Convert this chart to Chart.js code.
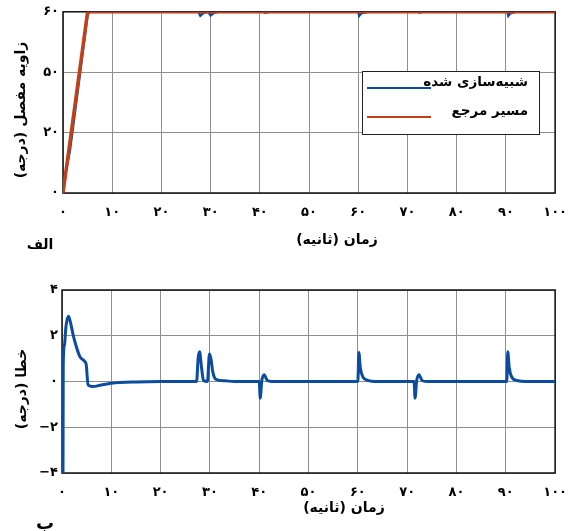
<!DOCTYPE html>
<html><head><meta charset="utf-8">
<script src="https://cdn.jsdelivr.net/npm/chart.js@4.4.1/dist/chart.umd.min.js"></script>
<style>
html,body{margin:0;padding:0;background:#fff;width:579px;height:531px;overflow:hidden}
canvas{position:absolute;left:0}
#c1{top:0}#c2{top:265px}
</style></head><body>
<canvas id="c1" width="579" height="265"></canvas>
<canvas id="c2" width="579" height="266"></canvas>
<script>
// ---- data ----
const xTickLabels = ['۰','۱۰','۲۰','۳۰','۴۰','۵۰','۶۰','۷۰','۸۰','۹۰','۱۰۰'];
const angleTickLabels = ['۰','۲۰','۵۰','۶۰'];
const errorTickLabels = ['−۴','−۲','۰','۲','۴'];
const seriesNames = ['شبیه‌سازی شده','مسیر مرجع'];
const xTitle = 'زمان (ثانیه)';
const angleTitle = 'زاویه مفصل (درجه)';
const errorTitle = 'خطا (درجه)';
const panelLabels = ['الف','ب'];

const refTime  = [0, 5, 100];
const refAngle = [0, 60, 60];

const simTime  = [0, 0.5, 1.4, 3, 5, 5.6, 8, 27.5, 27.9, 28.5, 29.5, 30, 30.6, 31.5, 40.2, 41, 42, 60, 60.2, 60.6, 62, 71.6, 72.4, 73, 90.3, 90.5, 90.9, 92, 100];
const simAngle = [0, 6.5, 14, 34, 59.2, 60.2, 60.1, 60, 58.7, 59.6, 60, 58.8, 59.6, 60, 60.7, 59.7, 60, 60, 58.7, 59.5, 60, 60.7, 59.7, 60, 60, 58.7, 59.5, 60, 60];

const errTime  = [0, 0.05, 0.2, 0.25, 0.5, 0.8, 1.3, 1.7, 2.2, 2.6, 3.6, 4.6, 4.9, 5.3, 6.2, 8, 10, 15, 20,
                  27.3, 27.6, 27.9, 28.3, 28.7, 29.5, 29.9, 30.2, 30.6, 31.2, 33, 35,
                  40, 40.2, 40.5, 41, 41.6, 42.5, 60, 60.2, 60.5, 61, 62, 64,
                  71.4, 71.6, 71.9, 72.4, 73, 74, 90.2, 90.4, 90.7, 91.2, 92.5, 94, 100];
const errValue = [0.3, -4, -4, 0.7, 1.6, 2.4, 2.85, 2.6, 2.1, 1.75, 1.1, 0.88, 0.75, -0.15, -0.22, -0.15, -0.08, -0.02, 0,
                  0, 1.0, 1.3, 0.6, 0.05, 0, 1.2, 1.0, 0.4, 0.1, 0.03, 0,
                  0, -0.73, 0, 0.3, 0.05, 0, 0, 1.27, 0.6, 0.2, 0.05, 0,
                  0, -0.73, 0, 0.3, 0.05, 0, 0, 1.3, 0.6, 0.2, 0.03, 0, 0];

// ---- styling ----
const BLUE = '#0b4c9e', RED = '#c0401a', GRID = '#8f8f8f';
const FONT = 'DejaVu Sans';
const pts = (xs, ys) => xs.map((x, i) => ({x, y: ys[i]}));

const framePlugin = {
  id: 'frame',
  beforeDatasetsDraw(chart) {
    const {ctx, chartArea: a} = chart;
    ctx.save();
    ctx.strokeStyle = '#111'; ctx.lineWidth = 1.5;
    ctx.strokeRect(a.left, a.top, a.right - a.left, a.bottom - a.top);
    ctx.restore();
  }
};

function textPlugin(items) {
  return {
    id: 'texts',
    afterDraw(chart) {
      const ctx = chart.ctx;
      items.forEach(t => {
        ctx.save();
        ctx.direction = 'rtl';
        ctx.font = 'bold ' + t.size + 'px "' + FONT + '"';
        ctx.fillStyle = '#000';
        ctx.textAlign = 'center';
        ctx.textBaseline = 'middle';
        ctx.translate(t.x, t.y);
        if (t.rot) ctx.rotate(t.rot);
        ctx.fillText(t.text, 0, 0);
        ctx.restore();
      });
    }
  };
}

const legendPlugin = {
  id: 'legendBox',
  afterDatasetsDraw(chart) {
    const ctx = chart.ctx;
    ctx.save();
    ctx.fillStyle = '#fff';
    ctx.fillRect(362, 71, 177, 63);
    ctx.strokeStyle = '#222'; ctx.lineWidth = 1;
    ctx.strokeRect(362.5, 71.5, 177, 63);
    const ds = chart.data.datasets;
    const rows = [{y: 88, ty: 82}, {y: 117, ty: 111}];
    ds.forEach((d, i) => {
      ctx.strokeStyle = d.borderColor; ctx.lineWidth = 2.2;
      ctx.beginPath(); ctx.moveTo(367, rows[i].y); ctx.lineTo(431, rows[i].y); ctx.stroke();
      ctx.direction = 'rtl';
      ctx.font = 'bold 13.5px "' + FONT + '"';
      ctx.fillStyle = '#000'; ctx.textAlign = 'right'; ctx.textBaseline = 'middle';
      ctx.fillText(d.label, 528, rows[i].ty);
    });
    ctx.restore();
  }
};

function scales(yMin, yMax, yStep, yLabels, yWidth, xHeight) {
  return {
    x: {
      type: 'linear', min: 0, max: 100,
      afterFit(s) { s.height = xHeight; },
      grid: {color: GRID, lineWidth: 1, drawTicks: false},
      border: {display: false},
      ticks: {stepSize: 10, autoSkip: false, maxRotation: 0, padding: 12, color: '#000',
              font: {family: FONT, weight: 'bold', size: 13},
              callback: (v, i) => xTickLabels[i]}
    },
    y: {
      type: 'linear', min: yMin, max: yMax,
      afterFit(s) { s.width = yWidth; },
      grid: {color: GRID, lineWidth: 1, drawTicks: false},
      border: {display: false},
      ticks: {stepSize: yStep, autoSkip: false, padding: 4, color: '#000',
              font: {family: FONT, weight: 'bold', size: 13},
              callback: (v, i) => yLabels[i]}
    }
  };
}

const common = {
  responsive: false, animation: false, devicePixelRatio: 1,
  plugins: {legend: {display: false}, tooltip: {enabled: false}},
  elements: {point: {radius: 0}, line: {tension: 0}}
};

new Chart(document.getElementById('c1'), {
  type: 'line',
  data: {datasets: [
    {label: seriesNames[0], data: pts(simTime, simAngle), borderColor: BLUE, borderWidth: 2.5, order: 1},
    {label: seriesNames[1], data: pts(refTime, refAngle), borderColor: RED, borderWidth: 3.5, order: 0}
  ]},
  options: Object.assign({}, common, {
    layout: {padding: {top: 11, right: 19, left: 0, bottom: 0}},
    scales: scales(0, 60, 20, angleTickLabels, 63, 72)
  }),
  plugins: [framePlugin, legendPlugin, textPlugin([
    {text: xTitle, x: 337, y: 240, size: 14},
    {text: angleTitle, x: 21, y: 110, size: 14, rot: -Math.PI / 2},
    {text: panelLabels[0], x: 40, y: 245, size: 14}
  ])]
});

new Chart(document.getElementById('c2'), {
  type: 'line',
  data: {datasets: [
    {label: 'error', data: pts(errTime, errValue), borderColor: BLUE, borderWidth: 3, cubicInterpolationMode: 'monotone'}
  ]},
  options: Object.assign({}, common, {
    layout: {padding: {top: 25, right: 19, left: 0, bottom: 0}},
    scales: scales(-4, 4, 2, errorTickLabels, 62, 58)
  }),
  plugins: [framePlugin, textPlugin([
    {text: xTitle, x: 344, y: 243, size: 14},
    {text: errorTitle, x: 22, y: 124, size: 14, rot: -Math.PI / 2},
    {text: panelLabels[1], x: 45, y: 259, size: 18}
  ])]
});
</script>
</body></html>
